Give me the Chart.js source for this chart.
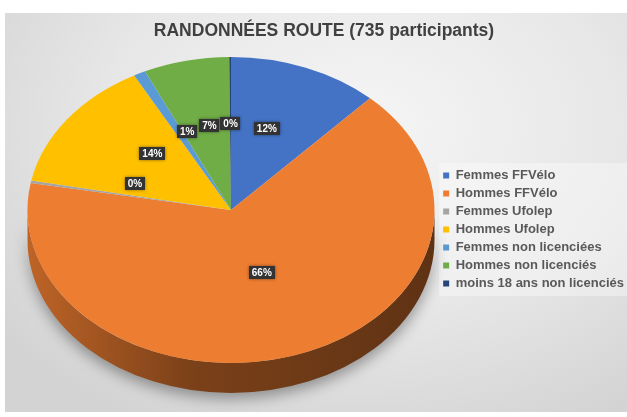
<!DOCTYPE html>
<html>
<head>
<meta charset="utf-8">
<script src="https://cdn.jsdelivr.net/npm/chart.js@4/dist/chart.umd.min.js"></script>
<style>
  html, body { margin: 0; padding: 0; background: #ffffff; }
  #wrap { position: relative; width: 627px; height: 417px; overflow: hidden; }
  #bg { position: absolute; left: 5px; top: 13px; width: 622px; height: 399px;
        background: radial-gradient(ellipse 75% 85% at 58% 28%, #f5f5f5 0%, #e7e7e7 55%, #d3d3d3 100%); }
  #c { position: absolute; left: 0; top: 0; }
</style>
</head>
<body>
<div id="wrap">
  <div id="bg"></div>
  <canvas id="c" width="627" height="417"></canvas>
</div>
<script>
const chartTitle = 'RANDONNÉES ROUTE (735 participants)';
const categories = ['Femmes FFVélo', 'Hommes FFVélo', 'Femmes Ufolep', 'Hommes Ufolep',
                    'Femmes non licenciées', 'Hommes non licenciés', 'moins 18 ans non licenciés'];
const participants = [88, 484, 2, 103, 7, 50, 1];
const sliceColors = ['#4472C4', '#ED7D31', '#A5A5A5', '#FFC000', '#5B9BD5', '#70AD47', '#264478'];

// pie projection (tilted 3D look)
const PIE = { cx: 231, cy: 210, rx: 203.5, ry: 153, depth: 30, labelFrac: 0.48 };

function shade(hex, k) {
  const n = parseInt(hex.slice(1), 16);
  const r = Math.round(((n >> 16) & 255) * k), g = Math.round(((n >> 8) & 255) * k), b = Math.round((n & 255) * k);
  return 'rgb(' + r + ',' + g + ',' + b + ')';
}

const pie3d = {
  id: 'pie3d',
  beforeDraw(chart) {
    const lg = chart.legend;
    if (!lg || !lg.legendHitBoxes || !lg.legendHitBoxes.length) return;
    const hb = lg.legendHitBoxes;
    const top = hb[0].top - 6, bottom = hb[hb.length - 1].top + hb[hb.length - 1].height + 6;
    const ctx = chart.ctx;
    ctx.save();
    ctx.fillStyle = 'rgba(255,255,255,0.35)';
    ctx.fillRect(hb[0].left - 4, top, chart.width - hb[0].left + 4, bottom - top);
    ctx.restore();
  },
  beforeDatasetsDraw(chart) {
    const meta = chart.getDatasetMeta(0);
    const first = meta.data[0];
    const cx = first.x, cy = first.y, R = first.outerRadius;
    const ctx = chart.ctx;
    ctx.save();
    ctx.translate(PIE.cx, PIE.cy);
    ctx.scale(PIE.rx / R, PIE.ry / R);
    ctx.translate(-cx, -cy);
    const Du = PIE.depth * R / PIE.ry;
    meta.data.forEach((arc) => {
      const a0 = Math.max(arc.startAngle, 0), a1 = Math.min(arc.endAngle, Math.PI);
      if (a1 <= a0) return;
      const base = arc.options.backgroundColor;
      const g = ctx.createLinearGradient(cx - R, 0, cx + R, 0);
      g.addColorStop(0, shade(base, 0.8));
      g.addColorStop(0.4, shade(base, 0.52));
      g.addColorStop(1, shade(base, 0.4));
      ctx.beginPath();
      ctx.arc(cx, cy, R, a0, a1);
      ctx.arc(cx, cy + Du, R, a1, a0, true);
      ctx.closePath();
      ctx.save();
      ctx.shadowColor = 'rgba(0,0,0,0.35)';
      ctx.shadowBlur = 14;
      ctx.shadowOffsetY = 6;
      ctx.fillStyle = g;
      ctx.fill();
      ctx.restore();
    });
  },
  afterDatasetsDraw(chart) {
    const ctx = chart.ctx;
    ctx.restore();
    const meta = chart.getDatasetMeta(0);
    const data = chart.data.datasets[0].data;
    const total = data.reduce((s, v) => s + v, 0);
    ctx.save();
    ctx.font = 'bold 10px "Liberation Sans", Arial, sans-serif';
    ctx.textAlign = 'center';
    ctx.textBaseline = 'middle';
    meta.data.forEach((arc, i) => {
      const mid = (arc.startAngle + arc.endAngle) / 2;
      const f = PIE.labelFrac;
      const v = Math.sin(mid) * f;
      const x = PIE.cx + Math.cos(mid) * f * PIE.rx;
      const y = PIE.cy + v * PIE.ry - 13 * (1 - Math.max(v, 0));
      const txt = Math.round(data[i] / total * 100) + '%';
      const w = ctx.measureText(txt).width + 6, h = 13;
      ctx.save();
      ctx.shadowColor = 'rgba(0,0,0,0.45)';
      ctx.shadowBlur = 3;
      ctx.fillStyle = '#333333';
      ctx.fillRect(Math.round(x - w / 2), Math.round(y - h / 2), Math.round(w), h);
      ctx.restore();
      ctx.fillStyle = '#ffffff';
      ctx.fillText(txt, x, y + 0.5);
    });
    ctx.restore();
  }
};

Chart.defaults.font.family = '"Liberation Sans", Arial, sans-serif';

new Chart(document.getElementById('c'), {
  type: 'pie',
  data: {
    labels: categories,
    datasets: [{
      data: participants,
      backgroundColor: sliceColors,
      borderWidth: 0
    }]
  },
  options: {
    responsive: false,
    animation: false,
    layout: { padding: { left: 14, right: -7, top: 0, bottom: 0 } },
    plugins: {
      title: {
        display: true,
        text: chartTitle,
        color: '#404040',
        font: { size: 17.5, weight: 'bold' },
        padding: { top: 21, bottom: 0 }
      },
      legend: {
        position: 'right',
        fullSize: false,
        labels: {
          boxWidth: 6,
          boxHeight: 6,
          padding: 5,
          color: '#595959',
          font: { size: 13, weight: 'bold' }
        }
      },
      tooltip: { enabled: false }
    }
  },
  plugins: [pie3d]
});
</script>
</body>
</html>
